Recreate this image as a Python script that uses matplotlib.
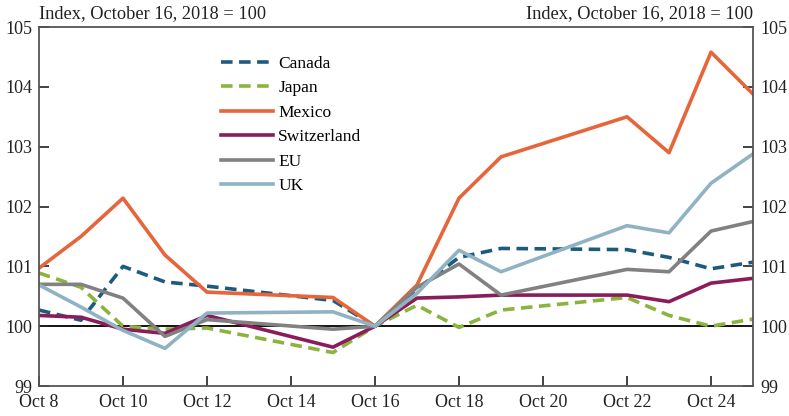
import numpy as np
import matplotlib
matplotlib.use("Agg")
import matplotlib.pyplot as plt

plt.rcParams['font.family'] = ['Liberation Serif', 'DejaVu Serif']

# trading days in October 2018
days = [8, 9, 10, 11, 12, 15, 16, 17, 18, 19, 22, 23, 24, 25]

canada = [100.27, 100.10, 101.00, 100.74, 100.67, 100.43, 100.0, 100.62, 101.15, 101.30, 101.28, 101.15, 100.96, 101.07]
japan = [100.89, 100.65, 100.00, 99.95, 99.97, 99.56, 100.0, 100.35, 99.98, 100.27, 100.48, 100.18, 100.00, 100.12]
mexico = [100.97, 101.50, 102.14, 101.19, 100.57, 100.48, 100.0, 100.69, 102.14, 102.83, 103.50, 102.90, 104.58, 103.88]
switzerland = [100.18, 100.15, 99.95, 99.88, 100.18, 99.65, 100.0, 100.47, 100.49, 100.52, 100.52, 100.41, 100.72, 100.80]
eu = [100.70, 100.70, 100.47, 99.83, 100.11, 99.95, 100.0, 100.65, 101.04, 100.52, 100.95, 100.91, 101.59, 101.75]
uk = [100.69, 100.32, 99.93, 99.63, 100.22, 100.24, 100.0, 100.55, 101.27, 100.91, 101.68, 101.56, 102.39, 102.88]

tick_days = [8, 10, 12, 14, 16, 18, 20, 22, 24]
tick_labels = ['Oct 8', 'Oct 10', 'Oct 12', 'Oct 14', 'Oct 16', 'Oct 18', 'Oct 20', 'Oct 22', 'Oct 24']

fig = plt.figure(figsize=(7.89, 4.16), dpi=100)
ax = fig.add_axes([0.0494, 0.072, 0.905, 0.863])

lw = 2.6
ax.axhline(100, color='black', lw=1.3, zorder=1)
ax.plot(days, canada, color='#1d5b7e', lw=lw, dashes=(3.2, 1.8), label='Canada')
ax.plot(days, japan, color='#8cb33e', lw=lw, dashes=(3.2, 1.8), label='Japan')
ax.plot(days, mexico, color='#e6653a', lw=lw, label='Mexico')
ax.plot(days, switzerland, color='#8a1c5b', lw=lw, label='Switzerland')
ax.plot(days, eu, color='#818181', lw=lw, label='EU')
ax.plot(days, uk, color='#8fb3c3', lw=lw, label='UK')

ax.set_xlim(8, 25)
ax.set_ylim(99, 105)
ax.set_xticks(tick_days)
ax.set_xticklabels(tick_labels)
ax.set_yticks([99, 100, 101, 102, 103, 104, 105])
ax.tick_params(direction='in', length=7, width=1.2, labelsize=13, colors='#222222')
ax.tick_params(axis='x', pad=6)
ax.tick_params(axis='y', right=True, labelright=True, pad=5)
for s in ax.spines.values():
    s.set_color('#555555')
    s.set_linewidth(1.3)

fig.text(0.0494, 0.946, 'Index, October 16, 2018 = 100', fontsize=13.2, ha='left', va='bottom', color='#222222')
fig.text(0.954, 0.946, 'Index, October 16, 2018 = 100', fontsize=13.2, ha='right', va='bottom', color='#222222')

leg = ax.legend(loc='upper left', bbox_to_anchor=(0.245, 0.94), frameon=False, fontsize=12.5,
                handlelength=3.0, handletextpad=0.3, labelspacing=0.48, borderaxespad=0)

fig.savefig('out.png', dpi=100)
